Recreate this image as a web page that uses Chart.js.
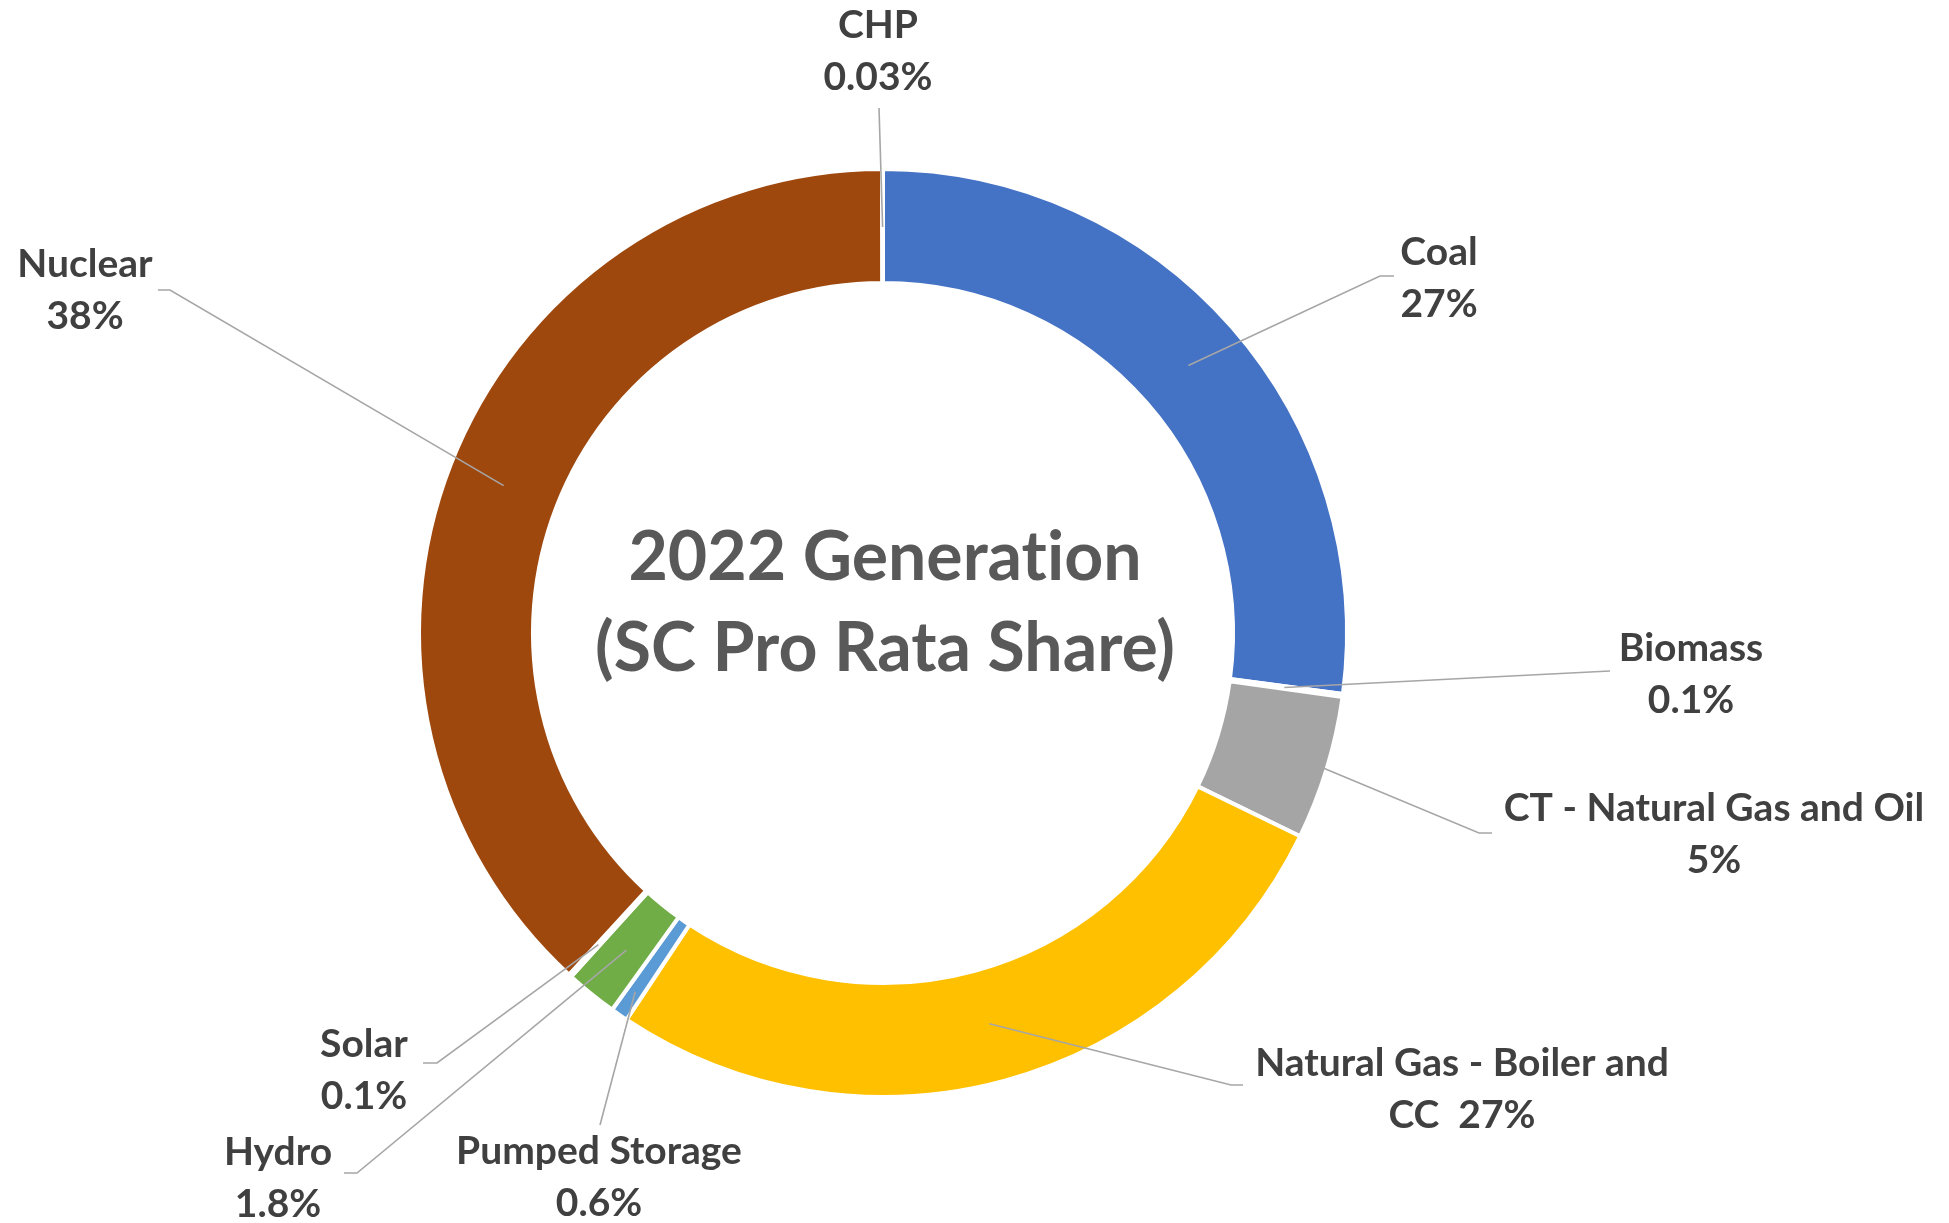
<!DOCTYPE html>
<html>
<head>
<meta charset="utf-8">
<title>2022 Generation (SC Pro Rata Share)</title>
<script src="https://cdn.jsdelivr.net/npm/chart.js@4/dist/chart.umd.min.js"></script>
<style>
  html, body { margin: 0; padding: 0; background: #ffffff; }
  #wrap { width: 1949px; height: 1223px; }
</style>
</head>
<body>
<div id="wrap"><canvas id="genChart" width="1949" height="1223"></canvas></div>
<script>
// Dados do gráfico (ordem no sentido horário a partir do topo)
const categories = ['Coal', 'Biomass', 'CT - Natural Gas and Oil', 'Natural Gas - Boiler and CC',
    'Pumped Storage', 'Hydro', 'Solar', 'Nuclear', 'CHP'];
const shares = [27, 0.1, 5, 27, 0.6, 1.8, 0.1, 38, 0.03];
const sliceColors = ['#4472C4', '#ED7D31', '#A5A5A5', '#FFC000', '#5B9BD5', '#70AD47', '#264478', '#9E480E', '#636363'];
const titleLines = ['2022 Generation', '(SC Pro Rata Share)'];

// Posição dos rótulos (texto, cotovelo e ponta da linha guia) - só layout
const labelLayout = [
    { tx: 1439, ty: 252, elbow: [1380, 276], end: [1394, 276], r: 406 },
    { tx: 1691, ty: 648, elbow: null, end: [1610, 671], r: 405 },
    { tx: 1714, ty: 808, elbow: [1479, 833], end: [1492, 833], r: 452 },
    { tx: 1462, ty: 1063, elbow: [1231, 1085], end: [1243, 1085], r: 405, first: 'Natural Gas - Boiler and', second: 'CC  ' },
    { tx: 599, ty: 1151, elbow: null, end: [600, 1125], r: 436 },
    { tx: 278, ty: 1152, elbow: [357, 1173], end: [344, 1173], r: 408 },
    { tx: 364, ty: 1044, elbow: [437, 1063], end: [423, 1063], r: 422 },
    { tx: 85, ty: 264, elbow: [170, 290], end: [158, 290], r: 407 },
    { tx: 878, ty: 25, elbow: null, end: [879, 108], r: 406 }
];

const labelPlugin = {
    id: 'calloutLabels',
    afterDatasetsDraw(chart) {
        const ctx = chart.ctx;
        const arcs = chart.getDatasetMeta(0).data;
        ctx.save();

        // linhas guia
        ctx.strokeStyle = '#A6A6A6';
        ctx.lineWidth = 1.6;
        arcs.forEach((arc, i) => {
            const p = arc.getProps(['x', 'y', 'startAngle', 'endAngle']);
            const lay = labelLayout[i];
            const mid = (p.startAngle + p.endAngle) / 2;
            const ax = p.x + lay.r * Math.cos(mid);
            const ay = p.y + lay.r * Math.sin(mid);
            ctx.beginPath();
            ctx.moveTo(ax, ay);
            if (lay.elbow) ctx.lineTo(lay.elbow[0], lay.elbow[1]);
            ctx.lineTo(lay.end[0], lay.end[1]);
            ctx.stroke();
        });

        // textos dos rótulos (sem ligaduras, como no original)
        ctx.textRendering = 'optimizeSpeed';
        ctx.fillStyle = '#404040';
        ctx.font = 'bold 39px Lato';
        ctx.textAlign = 'center';
        ctx.textBaseline = 'middle';
        categories.forEach((name, i) => {
            const lay = labelLayout[i];
            const pct = shares[i] + '%';
            const line1 = lay.first || name;
            const line2 = (lay.second || '') + pct;
            ctx.fillText(line1, lay.tx, lay.ty);
            ctx.fillText(line2, lay.tx, lay.ty + 52);
        });

        // título no centro
        ctx.fillStyle = '#595959';
        ctx.font = 'bold 68px Lato';
        ctx.fillText(titleLines[0], 885, 558);
        ctx.fillText(titleLines[1], 885, 649);
        ctx.restore();
    }
};

function createGenerationChart() {
    const ctx = document.getElementById('genChart').getContext('2d');
    new Chart(ctx, {
        type: 'doughnut',
        data: {
            labels: categories,
            datasets: [{
                data: shares,
                backgroundColor: sliceColors,
                borderColor: '#ffffff',
                borderWidth: 4,
                hoverOffset: 0
            }]
        },
        options: {
            responsive: false,
            animation: false,
            radius: 464,
            cutout: 347,
            layout: { padding: { left: 421, right: 604, top: 171, bottom: 128 } },
            plugins: {
                legend: { display: false },
                tooltip: { enabled: false }
            }
        },
        plugins: [labelPlugin]
    });
}

createGenerationChart();
</script>
</body>
</html>
